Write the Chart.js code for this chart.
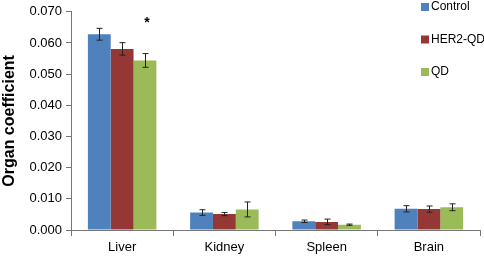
<!DOCTYPE html>
<html>
<head>
<meta charset="utf-8">
<script src="https://cdn.jsdelivr.net/npm/chart.js@4/dist/chart.umd.min.js"></script>
<style>
  html, body { margin: 0; padding: 0; background: #fff; }
  #wrap { width: 484px; height: 258px; }
</style>
</head>
<body>
<div id="wrap"><canvas id="js-chart-organ"></canvas></div>
<script>
// Chart data
const organs = ['Liver', 'Kidney', 'Spleen', 'Brain'];
const seriesNames = ['Control', 'HER2-QD', 'QD'];
const controlValues = [0.0628, 0.0056, 0.0028, 0.0068];
const her2Values = [0.0581, 0.0051, 0.0026, 0.0067];
const qdValues = [0.0544, 0.0066, 0.0017, 0.0073];
const controlErr = [0.0019, 0.0009, 0.0004, 0.0010];
const her2Err = [0.0020, 0.0005, 0.0009, 0.0010];
const qdErr = [0.0022, 0.0024, 0.0002, 0.0011];
const yTicks = [0, 0.01, 0.02, 0.03, 0.04, 0.05, 0.06, 0.07];
const colors = ['#4F81BD', '#953735', '#9BBB59'];

Chart.defaults.font.family = 'Arial, "Liberation Sans", sans-serif';
Chart.defaults.color = '#000';

// error bars + significance star
const errorBars = {
  id: 'errorBars',
  afterDatasetsDraw(chart) {
    const ctx = chart.ctx;
    const y = chart.scales.y;
    const errs = [controlErr, her2Err, qdErr];
    ctx.save();
    ctx.strokeStyle = '#222';
    ctx.lineWidth = 1;
    chart.data.datasets.forEach((ds, i) => {
      chart.getDatasetMeta(i).data.forEach((bar, j) => {
        const v = ds.data[j];
        const top = y.getPixelForValue(v + errs[i][j]);
        const bot = y.getPixelForValue(v - errs[i][j]);
        const x = Math.round(bar.x) + 0.5;
        ctx.beginPath();
        ctx.moveTo(x, top); ctx.lineTo(x, bot);
        ctx.moveTo(x - 3, top); ctx.lineTo(x + 3, top);
        ctx.moveTo(x - 3, bot); ctx.lineTo(x + 3, bot);
        ctx.stroke();
      });
    });
    // star over QD liver
    const liverQd = chart.getDatasetMeta(2).data[0];
    ctx.fillStyle = '#000';
    ctx.font = 'bold 14px Arial, "Liberation Sans", sans-serif';
    ctx.textAlign = 'center';
    ctx.textBaseline = 'middle';
    ctx.fillText('*', liverQd.x + 2, y.getPixelForValue(0.0665));
    ctx.restore();
  }
};

// legend in the top right corner
const sideLegend = {
  id: 'sideLegend',
  afterDraw(chart) {
    const ctx = chart.ctx;
    ctx.save();
    ctx.font = '12px Arial, "Liberation Sans", sans-serif';
    ctx.textBaseline = 'middle';
    seriesNames.forEach((name, i) => {
      const cy = 7 + i * 32.5;
      ctx.fillStyle = colors[i];
      ctx.fillRect(421, cy - 4, 8, 8);
      ctx.fillStyle = '#000';
      ctx.fillText(name, 431, cy);
    });
    ctx.restore();
  }
};

const data = {
  labels: organs,
  datasets: [
    { label: seriesNames[0], data: controlValues, backgroundColor: colors[0] },
    { label: seriesNames[1], data: her2Values, backgroundColor: colors[1] },
    { label: seriesNames[2], data: qdValues, backgroundColor: colors[2] }
  ]
};

new Chart(document.getElementById('js-chart-organ'), {
  type: 'bar',
  data: data,
  options: {
    responsive: true,
    maintainAspectRatio: false,
    animation: false,
    layout: { padding: { top: 6, right: 4, left: 0, bottom: 0 } },
    datasets: { bar: { categoryPercentage: 0.67, barPercentage: 1.0 } },
    plugins: { legend: { display: false }, tooltip: { enabled: false } },
    scales: {
      x: {
        grid: { offset: true, drawOnChartArea: false, drawTicks: true, tickLength: 6, color: '#777' },
        border: { color: '#777' },
        ticks: { font: { size: 13 }, padding: 4 },
        afterFit(s) { s.height = 28; }
      },
      y: {
        min: 0,
        max: 0.07,
        afterBuildTicks(s) { s.ticks = yTicks.map(v => ({ value: v })); },
        grid: { drawOnChartArea: false, drawTicks: true, tickLength: 5, color: '#777' },
        border: { color: '#777' },
        ticks: { font: { size: 13 }, padding: 4, callback: v => v.toFixed(3) },
        title: { display: true, text: 'Organ coefficient', font: { size: 16, weight: 'bold' }, padding: { top: 0, bottom: 4 } },
        afterFit(s) { s.width = 71; }
      }
    }
  },
  plugins: [errorBars, sideLegend]
});
</script>
</body>
</html>
